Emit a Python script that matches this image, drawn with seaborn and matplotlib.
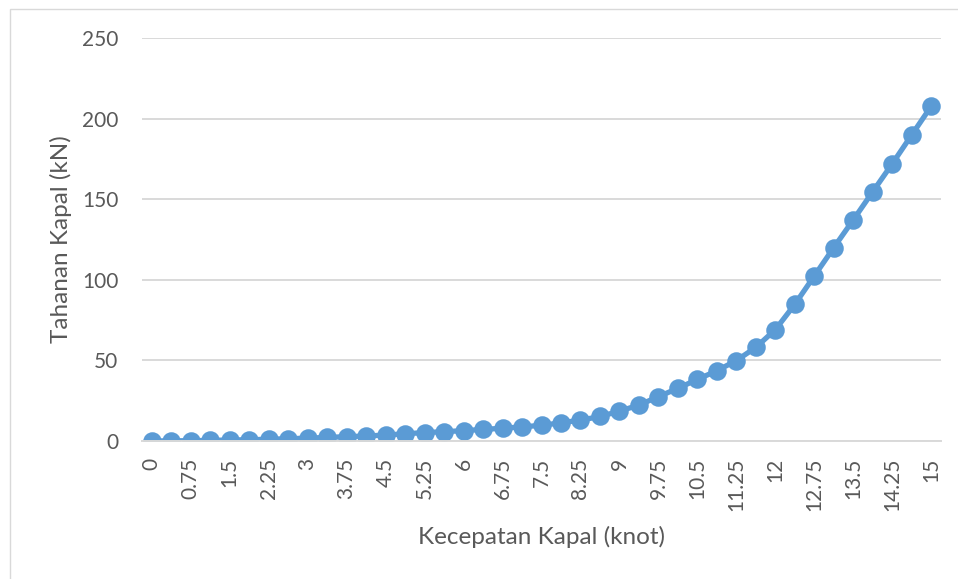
import matplotlib
matplotlib.use("Agg")
import matplotlib.pyplot as plt
from matplotlib.patches import Rectangle
import seaborn as sns
import pandas as pd

# Ship speed categories (knot), step 0.375
kecepatan = ["0", "0.375", "0.75", "1.125", "1.5", "1.875", "2.25", "2.625", "3",
             "3.375", "3.75", "4.125", "4.5", "4.875", "5.25", "5.625", "6",
             "6.375", "6.75", "7.125", "7.5", "7.875", "8.25", "8.625", "9",
             "9.375", "9.75", "10.125", "10.5", "10.875", "11.25", "11.625", "12",
             "12.375", "12.75", "13.125", "13.5", "13.875", "14.25", "14.625", "15"]

# Ship resistance (kN)
tahanan = [0, 0.1, 0.2, 0.4, 0.6, 0.8, 1.1, 1.4, 1.8, 2.2, 2.7, 3.1, 3.7, 4.5,
           5.2, 5.8, 6.4, 7.2, 7.9, 8.8, 9.7, 11.3, 12.9, 15.2, 18.5, 22.3, 27.5,
           32.7, 38.2, 43.6, 49.9, 58.1, 69.1, 84.8, 102.4, 120.0, 137.2, 154.7,
           172.0, 189.9, 207.7]

y_ticks = [0, 50, 100, 150, 200, 250]

df = pd.DataFrame({"Kecepatan": kecepatan, "Tahanan": tahanan})

sns.set_theme(style="white")
plt.rcParams["font.family"] = ["Lato", "DejaVu Sans"]

W, H = 958, 579
fig = plt.figure(figsize=(W / 100, H / 100), dpi=100)
fig.patch.set_facecolor("white")

# outer chart border (left and top edges visible)
fig.add_artist(Rectangle((9.5 / W, -0.1), 1.2, 1.1 - 9.5 / H,
                         transform=fig.transFigure, fill=False,
                         edgecolor="#D9D9D9", linewidth=1.0))

ax = fig.add_axes([142 / W, 1 - 441 / H, (941 - 142) / W, (441 - 38) / H])

line_color = "#5B9BD5"
sns.pointplot(data=df, x="Kecepatan", y="Tahanan", order=kecepatan,
              color=line_color, markers="o", linestyles="-",
              markersize=10.5, linewidth=3.8, ax=ax, errorbar=None)

ax.set_xlim(-0.5, len(kecepatan) - 0.5)
ax.set_ylim(0, 250)
ax.set_yticks(y_ticks)
ax.set_yticklabels([str(v) for v in y_ticks])

tick_pos = list(range(0, len(kecepatan), 2))
ax.set_xticks(tick_pos)
ax.set_xticklabels([kecepatan[i] for i in tick_pos], rotation=90, va="top",
                   ha="center")

ax.grid(axis="y", color="#D9D9D9", linewidth=1.4)
ax.grid(axis="x", visible=False)
ax.set_axisbelow(True)
for side in ["top", "right", "left"]:
    ax.spines[side].set_visible(False)
ax.spines["bottom"].set_color("#D9D9D9")
ax.spines["bottom"].set_linewidth(1.4)

ax.tick_params(axis="x", length=0, pad=12, labelsize=15, labelcolor="#595959")
ax.tick_params(axis="y", length=0, pad=17, labelsize=15, labelcolor="#595959")

ax.set_xlabel("Kecepatan Kapal (knot)", fontsize=17.5, color="#595959")
ax.set_ylabel("Tahanan Kapal (kN)", fontsize=17.5, color="#595959")
ax.xaxis.label.set_va("center")
ax.yaxis.label.set_va("center")
ax.xaxis.set_label_coords(0.5, (441 - 537) / 403)
ax.yaxis.set_label_coords((61 - 142) / 799, 0.5)

fig.savefig("out.png", dpi=100, facecolor="white")
